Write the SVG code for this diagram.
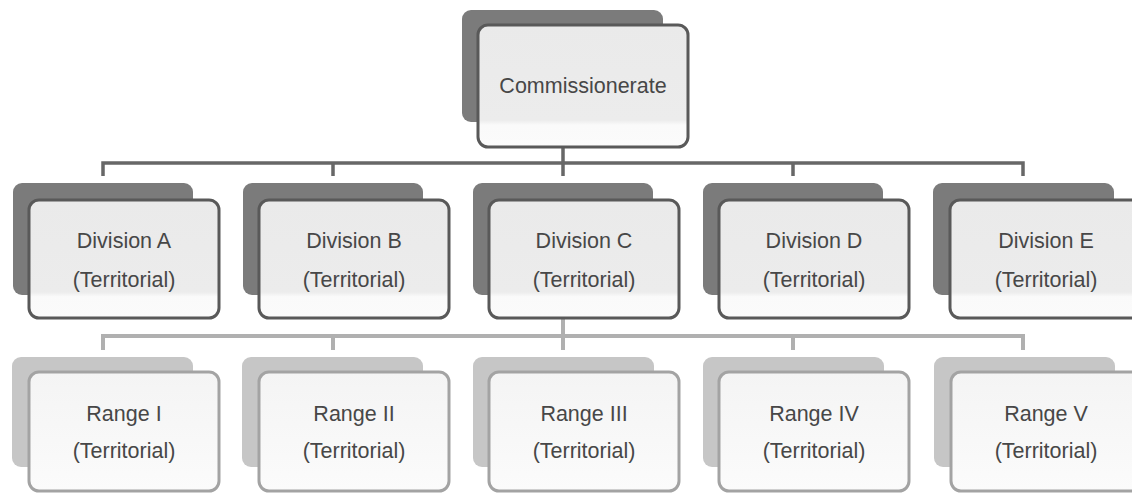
<svg xmlns="http://www.w3.org/2000/svg" width="1132" height="493" viewBox="0 0 1132 493">
<defs>
<linearGradient id="gDiv" x1="0" y1="0" x2="0" y2="1">
<stop offset="0" stop-color="#eaeaea"/>
<stop offset="0.78" stop-color="#ececec"/>
<stop offset="0.82" stop-color="#fafafa"/>
<stop offset="1" stop-color="#fbfbfb"/>
</linearGradient>
<linearGradient id="gRng" x1="0" y1="0" x2="0" y2="1">
<stop offset="0" stop-color="#f4f4f4"/>
<stop offset="1" stop-color="#fbfbfb"/>
</linearGradient>
</defs>
<style>
.backD{fill:#7b7b7b;}
.frontD{fill:url(#gDiv);stroke:#595959;stroke-width:3;}
.backR{fill:#c6c6c6;}
.frontR{fill:url(#gRng);stroke:#a3a3a3;stroke-width:3;}
.t{font-family:"Liberation Sans",Arial,sans-serif;font-size:21.5px;fill:#474747;text-anchor:middle;}
.c1{stroke:#676767;stroke-width:3.5;fill:none;}
.c2{stroke:#b0b0b0;stroke-width:4;fill:none;}
</style>
<rect width="1132" height="493" fill="#ffffff"/>
<g id="connectors">
<path class="c1" d="M563 147 V163 M103 176 V163 H1023 V176 M333 163 V176 M563 163 V176 M793 163 V176"/>
<path class="c2" d="M563 319 V336 M103 350 V336 H1023 V350 M333 336 V350 M563 336 V350 M793 336 V350"/>
</g>
<g id="commissionerate">
<rect class="backD" x="462" y="10" width="201" height="112" rx="9"/>
<rect class="frontD" x="478" y="25" width="210" height="122" rx="10"/>
<text class="t" x="583" y="93">Commissionerate</text>
</g>
<g id="divA">
<rect class="backD" x="13" y="183" width="180" height="112" rx="9"/>
<rect class="frontD" x="29" y="200" width="190" height="118" rx="10"/>
<text class="t" x="124" y="248">Division A</text>
<text class="t" x="124" y="287">(Territorial)</text>
</g>
<g id="divB">
<rect class="backD" x="243" y="183" width="180" height="112" rx="9"/>
<rect class="frontD" x="259" y="200" width="190" height="118" rx="10"/>
<text class="t" x="354" y="248">Division B</text>
<text class="t" x="354" y="287">(Territorial)</text>
</g>
<g id="divC">
<rect class="backD" x="473" y="183" width="180" height="112" rx="9"/>
<rect class="frontD" x="489" y="200" width="190" height="118" rx="10"/>
<text class="t" x="584" y="248">Division C</text>
<text class="t" x="584" y="287">(Territorial)</text>
</g>
<g id="divD">
<rect class="backD" x="703" y="183" width="180" height="112" rx="9"/>
<rect class="frontD" x="719" y="200" width="190" height="118" rx="10"/>
<text class="t" x="814" y="248">Division D</text>
<text class="t" x="814" y="287">(Territorial)</text>
</g>
<g id="divE">
<rect class="backD" x="933" y="183" width="181" height="112" rx="9"/>
<rect class="frontD" x="950" y="200" width="192" height="118" rx="10"/>
<text class="t" x="1046" y="248">Division E</text>
<text class="t" x="1046" y="287">(Territorial)</text>
</g>
<g id="rangeI">
<rect class="backR" x="12" y="357" width="181" height="110" rx="9"/>
<rect class="frontR" x="29" y="372" width="190" height="119" rx="10"/>
<text class="t" x="124" y="421">Range I</text>
<text class="t" x="124" y="458">(Territorial)</text>
</g>
<g id="rangeII">
<rect class="backR" x="242" y="357" width="181" height="110" rx="9"/>
<rect class="frontR" x="259" y="372" width="190" height="119" rx="10"/>
<text class="t" x="354" y="421">Range II</text>
<text class="t" x="354" y="458">(Territorial)</text>
</g>
<g id="rangeIII">
<rect class="backR" x="473" y="357" width="181" height="110" rx="9"/>
<rect class="frontR" x="489" y="372" width="190" height="119" rx="10"/>
<text class="t" x="584" y="421">Range III</text>
<text class="t" x="584" y="458">(Territorial)</text>
</g>
<g id="rangeIV">
<rect class="backR" x="703" y="357" width="181" height="110" rx="9"/>
<rect class="frontR" x="719" y="372" width="190" height="119" rx="10"/>
<text class="t" x="814" y="421">Range IV</text>
<text class="t" x="814" y="458">(Territorial)</text>
</g>
<g id="rangeV">
<rect class="backR" x="934" y="357" width="181" height="110" rx="9"/>
<rect class="frontR" x="951" y="372" width="191" height="119" rx="10"/>
<text class="t" x="1046" y="421">Range V</text>
<text class="t" x="1046" y="458">(Territorial)</text>
</g>
</svg>
